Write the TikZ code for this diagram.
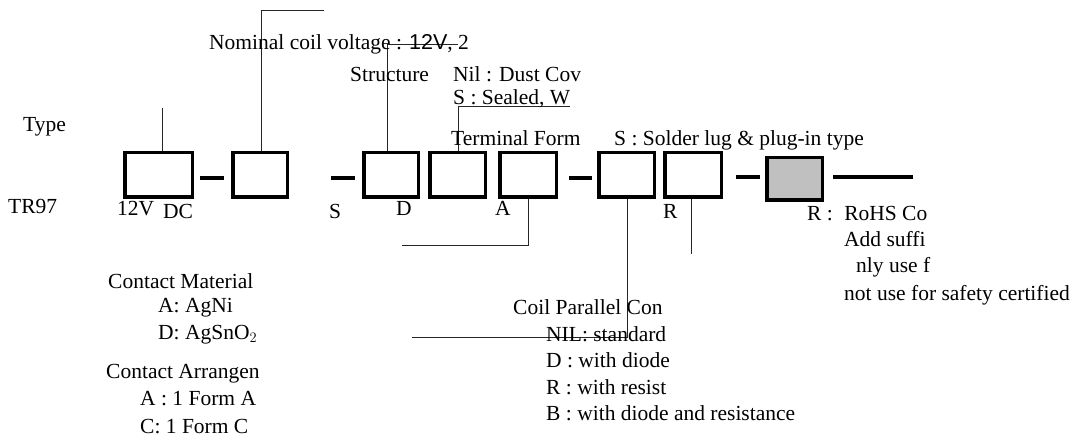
\documentclass[tikz,border=0pt]{standalone}
\usepackage{fontspec}
\setmainfont{Liberation Serif}
\newfontfamily\arialf{Liberation Sans}
\definecolor{boxgray}{RGB}{192,192,192}
\begin{document}
\begin{tikzpicture}[x=1pt,y=-1pt,
  txt/.style={anchor=base west,inner sep=0pt,font=\fontsize{21.5}{26}\selectfont},
  boxn/.style={draw,line width=3.5pt,inner sep=0pt,minimum height=44.5pt,minimum width=#1},
  dashl/.style={line width=3.5pt},
  lead/.style={line width=0.9pt,draw=black!85}]
\useasboundingbox (0,0) rectangle (1083,438);
% boxes
\node[boxn=67.5pt] (b1) at (158.5,175) {};
\node[boxn=54.5pt] (b2) at (260,175) {};
\node[boxn=54.5pt] (b3) at (391,175) {};
\node[boxn=55.5pt] (b4) at (457.5,175) {};
\node[boxn=56.5pt] (b5) at (528,175) {};
\node[boxn=55.5pt] (b6) at (626.5,175) {};
\node[boxn=56.5pt] (b7) at (693,175) {};
\node[boxn=55.5pt,minimum height=42.5pt,fill=boxgray] (b8) at (794.5,179) {};
% dashes
\coordinate (d2s) at (331,178);
\coordinate (tailE) at (913,177);
\draw[dashl] ([shift={(6,3)}]b1.east) -- ([shift={(-7,3)}]b2.west);
\draw[dashl] (d2s) -- ([shift={(-7,3)}]b3.west);
\draw[dashl] ([shift={(11,3)}]b5.east) -- ([shift={(-5,3)}]b6.west);
\draw[dashl] ([shift={(13,2)}]b7.east) -- ([shift={(-5,-2)}]b8.west);
\draw[dashl] ([shift={(9,-2)}]b8.east) -- (tailE);
% leader lines
\coordinate (tT) at (162,108);
\draw[lead] (tT) -- (tT |- b1.north);
\coordinate (nV) at (261,10); \coordinate (nE) at (324,10);
\draw[lead] (nV |- b2.north) -- (nV) -- (nE);
\coordinate (sV) at (387,44); \coordinate (sE) at (458,44);
\draw[lead] (sV |- b3.north) -- (sV) -- (sE);
\coordinate (qV) at (458,106); \coordinate (qE) at (570,106);
\draw[lead] (qV |- b4.north) -- (qV) -- (qE);
\coordinate (aV) at (528,245); \coordinate (aE) at (402,245);
\draw[lead] (aV |- b5.south) -- (aV) -- (aE);
\coordinate (cV) at (627,337); \coordinate (cE) at (412,337);
\draw[lead] (cV |- b6.south) -- (cV) -- (cE);
\coordinate (rV) at (691,254);
\draw[lead] (rV |- b7.south) -- (rV);
% texts
\node[txt] (tType) at (23,132) {Type};
\node[txt] (tTR) at (8,214) {TR97};
\node[txt] (t12) at (117,215) {12V};
\node[txt] (tDC) at (163,219) {DC};
\node[txt] (tS) at (329,219) {S};
\node[txt] (tD) at (396,216) {D};
\node[txt] (tA) at (495,216) {A};
\node[txt] (tR) at (663,219) {R};
\node[txt] (tNom) at (209,50) {Nominal coil voltage : {\arialf 12V}, 2};
\node[txt] (tStr) at (350,82) {Structure};
\node[txt] (tNil) at (453,82) {Nil : Dust Cov};
\node[txt] (tSea) at (453,105) {S : Sealed, W};
\node[txt] (tTer) at (451,146) {Terminal Form};
\node[txt] (tSol) at (614,146) {S : Solder lug \& plug-in type};
\node[txt] (tRo) at (807,221) {R :\hspace{6pt} RoHS Co};
\node[txt] (tAdd) at (844,247) {Add suffi};
\node[txt] (tOnly) at (856,272) {nly use f};
\node[txt] (tNot) at (844,300) {not use for safety certified};
\node[txt] (tCM) at (108,288) {Contact Material};
\node[txt] (tAg) at (158,312) {A: AgNi};
\node[txt] (tSn) at (158,339) {D: AgSnO$_2$};
\node[txt] (tCA) at (106,378) {Contact Arrangen};
\node[txt] (tFA) at (140,405) {A : 1 Form A};
\node[txt] (tFC) at (140,433) {C: 1 Form C};
\node[txt] (tCoil) at (513,314) {Coil Parallel Con};
\node[txt] (tNIL) at (546,341) {NIL: standard};
\node[txt] (tWD) at (546,367) {D : with diode};
\node[txt] (tWR) at (546,394) {R : with resist};
\node[txt] (tWB) at (546,420) {B : with diode and resistance};
\end{tikzpicture}
\end{document}
